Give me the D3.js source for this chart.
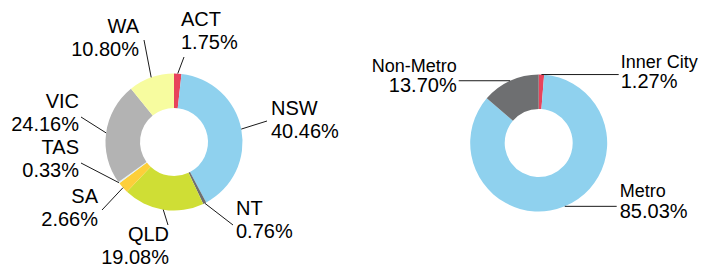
<!DOCTYPE html>
<html>
<head>
<meta charset="utf-8">
<script src="https://cdn.jsdelivr.net/npm/d3@7/dist/d3.min.js"></script>
<style>
  body { margin: 0; background: #fff; }
  svg { display: block; font-family: "Liberation Sans", Arial, sans-serif; }
  .lead { stroke: #1a1a1a; stroke-width: 1; fill: none; }
</style>
</head>
<body>
<svg id="chart" width="708" height="266"></svg>
<script>
// state split
const stateNames = ["ACT", "NSW", "NT", "QLD", "SA", "TAS", "VIC", "WA"];
const stateShares = [1.75, 40.46, 0.76, 19.08, 2.66, 0.33, 24.16, 10.80];
const stateColors = ["#e8435b", "#8fd1ee", "#6e6f71", "#cfde35", "#fdcf3a", "#e2f1f8", "#b3b3b3", "#f7fc9f"];

// area split
const areaNames = ["Inner City", "Metro", "Non-Metro"];
const areaShares = [1.27, 85.03, 13.70];
const areaColors = ["#e8435b", "#8fd1ee", "#6e6f71"];

// label placement: leader end offset from centre, then text offset from leader end
const stateLabels = {
  "ACT": { end: [10, -85], anchor: "start", dx: -3, dy: -31 },
  "NSW": { end: [93, -21], anchor: "start", dx: 4, dy: -6 },
  "NT":  { end: [59, 83], anchor: "start", dx: 3, dy: -10 },
  "QLD": { end: [-6, 83], anchor: "end", dx: 1, dy: 16 },
  "SA":  { end: [-72, 68], anchor: "end", dx: -4, dy: -7 },
  "TAS": { end: [-93, 21], anchor: "end", dx: -2, dy: -9 },
  "VIC": { end: [-93, -25], anchor: "end", dx: -2, dy: -9 },
  "WA":  { end: [-30, -102], anchor: "end", dx: -5, dy: -7 }
};
// right chart leaders are horizontal, only the x end is given
const areaLabels = {
  "Inner City": { endX: 80, anchor: "start", dx: 2, dy: -7 },
  "Metro":      { endX: 78, anchor: "start", dx: 3, dy: -9 },
  "Non-Metro":  { endX: -80, anchor: "end", dx: -2, dy: -9 }
};

const svg = d3.select("#chart");
const outerR = 68.5, innerR = 34;

const pie = d3.pie().sort(null).value(d => d.v);
const arc = d3.arc().innerRadius(innerR).outerRadius(outerR);
const fmt = v => v.toFixed(2) + "%";

function outerPoint(d) {
  const a = (d.startAngle + d.endAngle) / 2;
  return [Math.sin(a) * outerR, -Math.cos(a) * outerR];
}

// ---- left donut ----
const left = svg.append("g").attr("transform", "translate(174,142)");
const stateData = pie(stateNames.map((n, i) => ({ n: n, v: stateShares[i], c: stateColors[i] })));

left.selectAll("path.slice").data(stateData).enter().append("path")
  .attr("class", "slice")
  .attr("d", arc)
  .attr("fill", d => d.data.c);

stateData.forEach(d => {
  const L = stateLabels[d.data.n];
  const p = outerPoint(d);
  left.append("line").attr("class", "lead")
    .attr("x1", p[0]).attr("y1", p[1])
    .attr("x2", L.end[0]).attr("y2", L.end[1]);
  const t = left.append("text")
    .attr("text-anchor", L.anchor)
    .attr("font-size", 20)
    .attr("fill", "#000");
  t.append("tspan").attr("x", L.end[0] + L.dx).attr("y", L.end[1] + L.dy).text(d.data.n);
  t.append("tspan").attr("x", L.end[0] + L.dx).attr("y", L.end[1] + L.dy + 22.5).text(fmt(d.data.v));
});

// ---- right donut ----
const right = svg.append("g").attr("transform", "translate(538.7,143)");
const areaData = pie(areaNames.map((n, i) => ({ n: n, v: areaShares[i], c: areaColors[i] })));

right.selectAll("path.slice").data(areaData).enter().append("path")
  .attr("class", "slice")
  .attr("d", arc)
  .attr("fill", d => d.data.c);

areaData.forEach(d => {
  const L = areaLabels[d.data.n];
  const p = outerPoint(d);
  right.append("line").attr("class", "lead")
    .attr("x1", p[0]).attr("y1", p[1])
    .attr("x2", L.endX).attr("y2", p[1]);
  const t = right.append("text")
    .attr("text-anchor", L.anchor)
    .attr("fill", "#000");
  t.append("tspan").attr("x", L.endX + L.dx).attr("y", p[1] + L.dy)
    .attr("font-size", 18).text(d.data.n);
  t.append("tspan").attr("x", L.endX + L.dx).attr("y", p[1] + L.dy + 20.5)
    .attr("font-size", 20).text(fmt(d.data.v));
});
</script>
</body>
</html>
